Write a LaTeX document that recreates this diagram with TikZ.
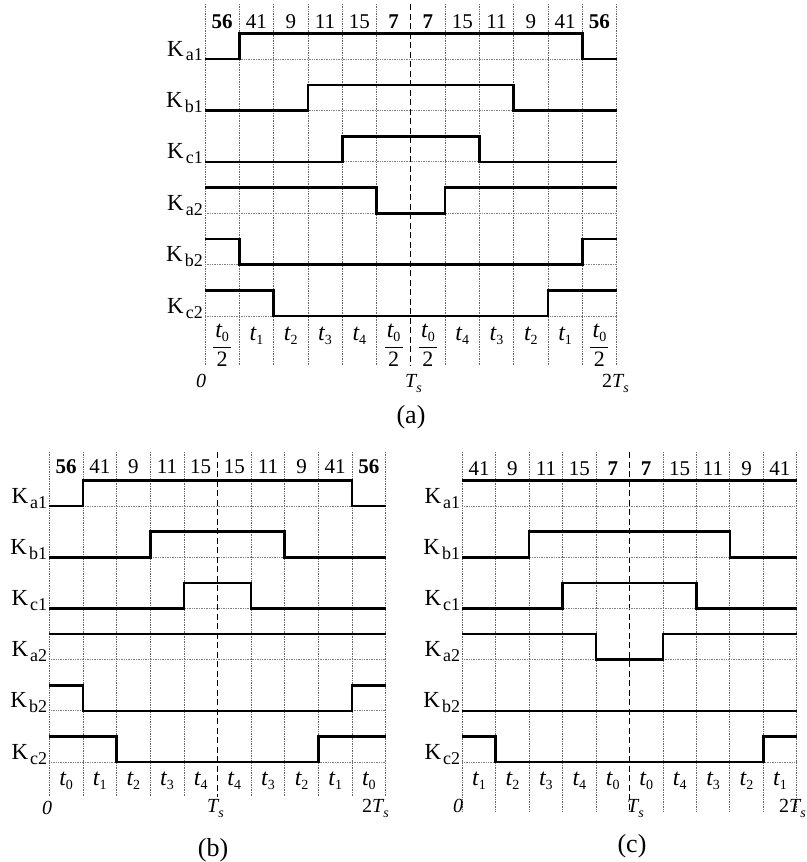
\documentclass[tikz,border=0pt]{standalone}
\usepackage{fontspec}
\setmainfont{Liberation Serif}
\usetikzlibrary{calc}
\tikzset{
  gridln/.style={black!60, line width=0.7pt, densely dotted},
  hgridln/.style={black!50, line width=0.7pt, densely dotted},
  midln/.style={black, line width=1.2pt, dash pattern=on 6pt off 3.5pt},
  sig/.style={black, line width=2.6pt, line join=miter},
  numlab/.style={font=\fontsize{21}{21}\selectfont, inner sep=0pt},
  klab/.style={font=\fontsize{23}{23}\selectfont, inner sep=0pt, anchor=base east},
  tlab/.style={inner sep=0pt},
  axlab/.style={font=\fontsize{20}{20}\selectfont, inner sep=0pt, anchor=base west},
  caplab/.style={font=\fontsize{26}{26}\selectfont, inner sep=0pt},
  fracbar/.style={black, line width=0.9pt},
}
\newcommand\Ksub[1]{K\kern2pt\raisebox{-5pt}{\fontsize{18}{18}\selectfont #1}}
\newcommand\tsym[1]{{\fontsize{24}{24}\selectfont\itshape t}\raisebox{-4pt}{\fontsize{14}{14}\selectfont #1}}
\newcommand\Tsym{{\itshape T}\raisebox{-5pt}{\fontsize{14}{14}\selectfont\itshape s}}
% name, x0, w, n, ytop, ybot, ylow0, dy, mid
\newcommand\mkgrid[9]{%
  \foreach \i in {0,...,#4} {
    \coordinate (#1-\i-T) at ({#2+\i*#3},#5);
    \coordinate (#1-\i-B) at ({#2+\i*#3},#6);
    \foreach \k in {1,...,6} {
      \coordinate (#1-\i-\k L) at ({#2+\i*#3},{#7+(\k-1)*#8});
      \coordinate (#1-\i-\k H) at ({#2+\i*#3},{#7+(\k-1)*#8-25.5});
    }
  }
  \foreach \i in {0,...,#4} {\ifnum\i=#9\relax\else\draw[gridln] (#1-\i-T) -- (#1-\i-B);\fi}
  \draw[midln] (#1-#9-T) -- (#1-#9-B);
  \foreach \k in {1,...,6} {\draw[hgridln] (#1-0-\k L) -- (#1-#4-\k L);}
  \foreach \nm [count=\k] in {a1,b1,c1,a2,b2,c2} {
    \node[klab] (#1-K\k) at ($(#1-0-\k L)+(-2,-3)$) {\Ksub{\nm}};
  }
}
\begin{document}
\begin{tikzpicture}[x=1pt,y=-1pt]
\useasboundingbox (0,0) rectangle (806,862);
\fill[white] (0,0) rectangle (806,862);

%% ---------------- (a) ----------------
\mkgrid{a}{205}{34.3}{12}{4}{366}{59}{51.4}{6}
\foreach \lab [count=\c from 0] in {\textbf{56},41,9,11,15,\textbf{7},\textbf{7},15,11,9,41,\textbf{56}}
  \node[numlab] (a-n\c) at ({205+(\c+0.5)*34.3},22) {\lab};
\foreach \c/\s in {1/1,2/2,3/3,4/4,7/4,8/3,9/2,10/1}
  \node[tlab] (a-t\c) at ({205+(\c+0.5)*34.3},336) {\tsym{\s}};
\foreach \c in {0,5,6,11} {
  \node[tlab] (a-fn\c) at ({205+(\c+0.5)*34.3},333) {\tsym{0}};
  \node[tlab,font=\fontsize{22}{22}\selectfont] (a-fd\c) at ({205+(\c+0.5)*34.3},359) {2};
  \draw[fracbar] ({205+(\c+0.5)*34.3-9},347.5) -- ({205+(\c+0.5)*34.3+9},347.5);
}
\draw[sig] (a-0-1L)--(a-1-1L)--(a-1-1H)--(a-11-1H)--(a-11-1L)--(a-12-1L);
\draw[sig] (a-0-2L)--(a-3-2L)--(a-3-2H)--(a-9-2H)--(a-9-2L)--(a-12-2L);
\draw[sig] (a-0-3L)--(a-4-3L)--(a-4-3H)--(a-8-3H)--(a-8-3L)--(a-12-3L);
\draw[sig] (a-0-4H)--(a-5-4H)--(a-5-4L)--(a-7-4L)--(a-7-4H)--(a-12-4H);
\draw[sig] (a-0-5H)--(a-1-5H)--(a-1-5L)--(a-11-5L)--(a-11-5H)--(a-12-5H);
\draw[sig] (a-0-6H)--(a-2-6H)--(a-2-6L)--(a-10-6L)--(a-10-6H)--(a-12-6H);
\node[axlab] (a-zero) at (196,387) {\itshape 0};
\node[axlab] (a-Ts) at (405,387) {\Tsym};
\node[axlab] (a-2Ts) at (602,387) {2\Tsym};
\node[caplab] (a-cap) at (411,417) {(a)};

%% ---------------- (b) ----------------
\mkgrid{b}{49.3}{33.64}{10}{452}{797}{506}{51.2}{5}
\foreach \lab [count=\c from 0] in {\textbf{56},41,9,11,15,15,11,9,41,\textbf{56}}
  \node[numlab] (b-n\c) at ({49.3+(\c+0.5)*33.64},467) {\lab};
\foreach \s [count=\c from 0] in {0,1,2,3,4,4,3,2,1,0}
  \node[tlab] (b-t\c) at ({49.3+(\c+0.5)*33.64},781) {\tsym{\s}};
\draw[sig] (b-0-1L)--(b-1-1L)--(b-1-1H)--(b-9-1H)--(b-9-1L)--(b-10-1L);
\draw[sig] (b-0-2L)--(b-3-2L)--(b-3-2H)--(b-7-2H)--(b-7-2L)--(b-10-2L);
\draw[sig] (b-0-3L)--(b-4-3L)--(b-4-3H)--(b-6-3H)--(b-6-3L)--(b-10-3L);
\draw[sig] (b-0-4H)--(b-10-4H);
\draw[sig] (b-0-5H)--(b-1-5H)--(b-1-5L)--(b-9-5L)--(b-9-5H)--(b-10-5H);
\draw[sig] (b-0-6H)--(b-2-6H)--(b-2-6L)--(b-8-6L)--(b-8-6H)--(b-10-6H);
\node[axlab] (b-zero) at (42,814) {\itshape 0};
\node[axlab] (b-Ts) at (207,812) {\Tsym};
\node[axlab] (b-2Ts) at (362,812) {2\Tsym};
\node[caplab] (b-cap) at (213,850) {(b)};

%% ---------------- (c) ----------------
\mkgrid{c}{462.3}{33.44}{10}{452}{812}{506}{51.2}{5}
\foreach \lab [count=\c from 0] in {41,9,11,15,\textbf{7},\textbf{7},15,11,9,41}
  \node[numlab] (c-n\c) at ({462.3+(\c+0.5)*33.44},469) {\lab};
\foreach \s [count=\c from 0] in {1,2,3,4,0,0,4,3,2,1}
  \node[tlab] (c-t\c) at ({462.3+(\c+0.5)*33.44},781) {\tsym{\s}};
\draw[sig] (c-0-1H)--(c-10-1H);
\draw[sig] (c-0-2L)--(c-2-2L)--(c-2-2H)--(c-8-2H)--(c-8-2L)--(c-10-2L);
\draw[sig] (c-0-3L)--(c-3-3L)--(c-3-3H)--(c-7-3H)--(c-7-3L)--(c-10-3L);
\draw[sig] (c-0-4H)--(c-4-4H)--(c-4-4L)--(c-6-4L)--(c-6-4H)--(c-10-4H);
\draw[sig] (c-0-5L)--(c-10-5L);
\draw[sig] (c-0-6H)--(c-1-6H)--(c-1-6L)--(c-9-6L)--(c-9-6H)--(c-10-6H);
\node[axlab] (c-zero) at (453,812) {\itshape 0};
\node[axlab] (c-Ts) at (627,812) {\Tsym};
\node[axlab] (c-2Ts) at (779,812) {2\Tsym};
\node[caplab] (c-cap) at (632,846) {(c)};
\end{tikzpicture}
\end{document}
